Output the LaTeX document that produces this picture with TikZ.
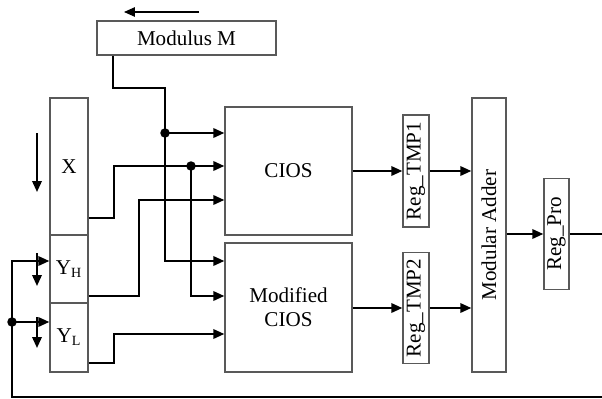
\documentclass[tikz,border=0pt]{standalone}
\usepackage{fontspec}
\setmainfont{Liberation Serif}
\usetikzlibrary{arrows.meta,positioning}

\begin{document}
\begin{tikzpicture}[x=0.02cm, y=-0.02cm,
    blk/.style={rectangle, draw=black!65, line width=0.8pt, inner sep=0pt, align=center, font=\fontsize{12}{13.5}\selectfont},
    wire/.style={line width=1.1pt},
    arr/.style={wire, -{Triangle[length=2.2mm,width=1.9mm]}},
    dot/.style={circle, fill=black, inner sep=0pt, minimum size=0.19cm}]
    \useasboundingbox (0,0) rectangle (602,399);

    % registers and arithmetic units
    \node (modM) [blk, minimum width=3.58cm, minimum height=0.68cm] at (186.5,38) {Modulus M};
    \node (regX) [blk, minimum width=0.76cm, minimum height=2.74cm] at (69,166.5) {X};
    \node (regYH) [blk, minimum width=0.76cm, minimum height=1.36cm] at (69,269) {Y\textsubscript{H}};
    \node (regYL) [blk, minimum width=0.76cm, minimum height=1.38cm] at (69,337.5) {Y\textsubscript{L}};
    \node (cios) [blk, minimum width=2.54cm, minimum height=2.56cm] at (288.5,171) {CIOS};
    \node (mcios) [blk, minimum width=2.54cm, minimum height=2.58cm] at (288.5,307.5) {Modified\\CIOS};
    \node (tmp1) [blk, rotate=90, minimum width=2.24cm, minimum height=0.52cm] at (416,171) {Reg\_TMP1};
    \node (tmp2) [blk, rotate=90, minimum width=2.22cm, minimum height=0.52cm] at (416,308) {Reg\_TMP2};
    \node (adder) [blk, rotate=90, minimum width=5.48cm, minimum height=0.68cm] at (489,235) {Modular Adder};
    \node (regpro) [blk, rotate=90, minimum width=2.22cm, minimum height=0.5cm] at (556.5,234) {Reg\_Pro};

    % junction dots
    \node (dM) [dot] at (165,133) {};
    \node (dX) [dot] at (191,166) {};
    \node (dF) [dot] at (12,322) {};

    % shift directions
    \coordinate (sM) at (199,12);
    \coordinate (eM) at (124,12);
    \draw[-{Triangle[length=2.2mm,width=1.9mm]}, line width=0.8pt] (sM) -- (eM);
    \draw[arr] (37,133) -- (37,192);
    \draw[arr] (37,253) -- (37,286);
    \draw[arr] (37,317) -- (37,348);

    % modulus to both multipliers
    \draw[arr] (modM.south west) ++(17,0) |- (dM |- 0,88) -- (dM.center) |- (mcios.west |- 0,261);
    \draw[arr] (dM.center) -- (cios.west |- dM);

    % operand X
    \draw[arr] (regX.east |- 0,218) -| (114,166) -- (cios.west |- dX);
    \draw[arr] (dX.center) |- (mcios.west |- 0,296);

    % operands YH and YL
    \draw[arr] (regYH.east |- 0,296) -| (139,200) -- (cios.west |- 0,200);
    \draw[arr] (regYL.east |- 0,363) -| (114,334) -- (mcios.west |- 0,334);

    % partial products to adder
    \draw[arr] (cios.east) -- (tmp1.north);
    \draw[arr] (tmp1.south) -- (adder.north |- tmp1.south);
    \draw[arr] (mcios.east |- tmp2) -- (tmp2.north);
    \draw[arr] (tmp2.south) -- (adder.north |- tmp2.south);
    \draw[arr] (adder.south |- regpro) -- (regpro.north);

    % output and feedback
    \coordinate (out) at (602,234);
    \coordinate (fb) at (602,397);
    \draw[wire] (regpro.south) -- (out);
    \draw[arr] (fb) -| (dF.center) |- (regYH.west |- 0,261);
    \draw[arr] (fb) -| (dF.center) -- (regYL.west |- dF);
\end{tikzpicture}
\end{document}
